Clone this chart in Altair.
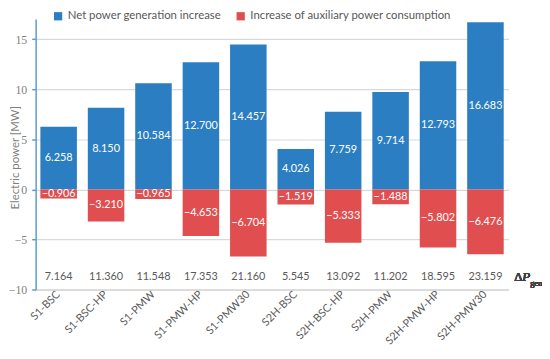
import altair as alt
import pandas as pd

categories = ["S1-BSC", "S1-BSC-HP", "S1-PMW", "S1-PMW-HP", "S1-PMW30",
              "S2H-BSC", "S2H-BSC-HP", "S2H-PMW", "S2H-PMW-HP", "S2H-PMW30"]
net_gen = [6.258, 8.150, 10.584, 12.700, 14.457, 4.026, 7.759, 9.714, 12.793, 16.683]
aux_cons = [-0.906, -3.210, -0.965, -4.653, -6.704, -1.519, -5.333, -1.488, -5.802, -6.476]
delta_p = [7.164, 11.360, 11.548, 17.353, 21.160, 5.545, 13.092, 11.202, 18.595, 23.159]
series_names = ["Net power generation increase", "Increase of auxiliary power consumption"]
colors = ["#2A7EC1", "#E04E50"]

rows = []
for c, n, a in zip(categories, net_gen, aux_cons):
    rows.append({"cat": c, "series": series_names[0], "value": n, "mid": n / 2})
    rows.append({"cat": c, "series": series_names[1], "value": a, "mid": a / 2})
df = pd.DataFrame(rows)
dp_df = pd.DataFrame({"cat": categories, "dp": delta_p})

SANS = "Lato"
SERIF = "Liberation Serif"
GRAY = "#595959"

xenc = alt.X("cat:N", sort=categories, title=None,
             scale=alt.Scale(paddingInner=0.23, paddingOuter=0.1),
             axis=alt.Axis(labelAngle=-45, labelAlign="right", labelBaseline="middle",
                           labelFont=SANS, labelFontSize=11, labelColor=GRAY,
                           ticks=False, domainColor="#D9D9D9", labelPadding=3,
                           domainWidth=1.5, labelLimit=0))
yscale = alt.Scale(domain=[-10, 17], nice=False, zero=False)

bars = alt.Chart(df).mark_bar().encode(
    x=xenc,
    y=alt.Y("value:Q", scale=yscale, title="Electric power [MW]",
            axis=alt.Axis(values=[-10, -5, 0, 5, 10, 15], labelFont=SERIF, labelFontSize=12,
                          labelColor="#7F7F7F", titleFont=SANS, titleFontSize=11.5,
                          titleFontWeight="normal", titleColor="#7F7F7F",
                          titleX=-15, titleY=140, titleAngle=270, titleBaseline="bottom",
                          titleAlign="center",
                          domainColor="#5B9BD5", domainWidth=1.5, tickColor="#5B9BD5",
                          tickSize=4, tickWidth=1.5, labelPadding=5,
                          gridColor="#D9D9D9", gridWidth=1.2)),
    y2=alt.datum(0),
    color=alt.Color("series:N", scale=alt.Scale(domain=series_names, range=colors),
                    legend=alt.Legend(title=None, orient="none", direction="horizontal",
                                      legendX=17, legendY=-9, symbolType="square",
                                      symbolSize=70, symbolStrokeWidth=0,
                                      labelFont=SANS, labelFontSize=11.5, labelColor=GRAY,
                                      labelLimit=0, columnPadding=14, symbolOpacity=1)),
)

labels = alt.Chart(df).mark_text(color="white", font=SANS, fontSize=11).encode(
    x=alt.X("cat:N", sort=categories),
    y=alt.Y("mid:Q", scale=yscale),
    text=alt.Text("value:Q", format=".3f"),
)

dp_text = alt.Chart(dp_df).mark_text(color=GRAY, font=SANS, fontSize=11).encode(
    x=alt.X("cat:N", sort=categories),
    y=alt.datum(-8.8),
    text=alt.Text("dp:Q", format=".3f"),
)

delta = alt.Chart(dp_df).mark_text(font=SERIF, fontSize=13, color="#404040", align="left").encode(
    x=alt.value(485), y=alt.datum(-8.8), text=alt.value("Δ"))
p_it = alt.Chart(dp_df).mark_text(font=SERIF, fontSize=13, fontStyle="italic", color="#404040",
                                  align="left").encode(
    x=alt.value(493), y=alt.datum(-8.8), text=alt.value("P"))
gen = alt.Chart(dp_df).mark_text(font=SERIF, fontSize=8.5, color="#404040", align="left",
                                 baseline="middle").encode(
    x=alt.value(501), y=alt.datum(-9.35), text=alt.value("gen"))

chart = alt.layer(bars, labels, dp_text, delta, p_it, gen).properties(
    width=479, height=274,
    autosize=alt.AutoSizeParams(type="none"),
    padding={"left": 28, "top": 9, "right": 34, "bottom": 60},
).configure_view(stroke=None)

chart.save("out.html", embed_options={"renderer": "svg", "actions": False})
